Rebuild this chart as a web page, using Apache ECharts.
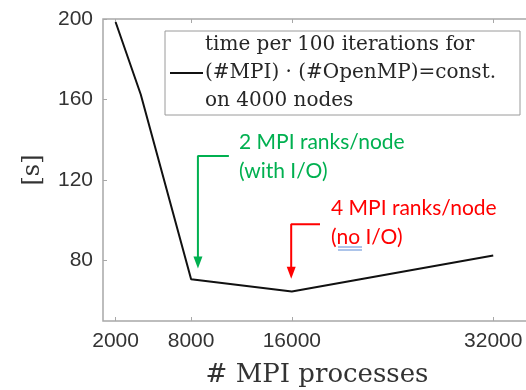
<!DOCTYPE html>
<html>
<head>
<meta charset="utf-8">
<script src="https://cdn.jsdelivr.net/npm/echarts@6/dist/echarts.min.js"></script>
<style>
  html, body { margin: 0; padding: 0; background: #fff; }
  #chart { width: 526px; height: 390px; }
</style>
</head>
<body>
<div id="chart"></div>
<script>
// data
var mpiProcs = [2000, 4000, 8000, 16000, 32000]
var timeSec = [198.5, 162.5, 70.7, 64.7, 82.5]
var xTicks = [2000, 8000, 16000, 32000]
var yTicks = [80, 120, 160, 200]
// annotation arrows (data coords)
var greenArrow = [[11000, 132], [8540, 132], [8540, 79]]
var redArrow = [[18240, 98], [15950, 98], [15950, 74]]

var legendName = 'time per 100 iterations for\n(#MPI) · (#OpenMP)=const.\non 4000 nodes'
var axisGray = '#a8a8a8'
var serif = 'DejaVu Serif'
var sans = 'Liberation Sans'

var chart = echarts.init(document.getElementById('chart'))

function arrowSeries(pts, color) {
  var data = pts.map(function (p, i) {
    if (i === pts.length - 1) {
      return { value: p, symbol: 'triangle', symbolSize: [9, 12], symbolRotate: 180 }
    }
    return { value: p, symbol: 'none' }
  })
  return {
    type: 'line',
    data: data,
    showSymbol: true,
    symbol: 'none',
    lineStyle: { color: color, width: 2 },
    itemStyle: { color: color },
    silent: true,
    z: 3
  }
}

function plain(v) { return String(v) }

chart.setOption({
  animation: false,
  backgroundColor: '#fff',
  grid: {
    left: 103, top: 19, right: -5, bottom: 69, outerBoundsMode: 'none',
    show: true, borderColor: axisGray, borderWidth: 1.5, backgroundColor: 'transparent'
  },
  legend: {
    data: [{ name: legendName, icon: 'rect' }],
    left: 165,
    top: 31,
    orient: 'vertical',
    borderColor: '#9a9a9a',
    borderWidth: 1,
    padding: [0, 5, 0, 5],
    itemWidth: 33,
    itemHeight: 2,
    itemGap: 0,
    selectedMode: false,
    textStyle: {
      fontFamily: serif, fontSize: 20, color: '#262626', lineHeight: 28,
      width: 310, overflow: 'none', padding: [0, 0, 0, -3]
    }
  },
  xAxis: [
    {
      type: 'value',
      min: 1000,
      max: 35000,
      name: '# MPI processes',
      nameLocation: 'middle',
      nameGap: 41,
      nameTextStyle: { fontFamily: serif, fontSize: 26, color: '#333' },
      axisLine: { show: false },
      axisTick: { show: true, inside: true, length: 4, customValues: xTicks, lineStyle: { color: axisGray } },
      axisLabel: { customValues: xTicks, formatter: plain, margin: 10, fontFamily: sans, fontSize: 21, color: '#333' },
      splitLine: { show: false }
    },
    {
      type: 'value',
      position: 'top',
      min: 1000,
      max: 35000,
      axisLine: { show: false },
      axisTick: { show: true, inside: true, length: 4, customValues: xTicks, lineStyle: { color: axisGray } },
      axisLabel: { show: false },
      splitLine: { show: false }
    }
  ],
  yAxis: {
    type: 'value',
    min: 50,
    max: 200,
    name: '[s]',
    nameLocation: 'middle',
    nameRotate: 90,
    nameGap: 58,
    nameTextStyle: { fontFamily: serif, fontSize: 24, color: '#333' },
    axisLine: { show: false },
    axisTick: { show: true, inside: true, length: 4, customValues: yTicks, lineStyle: { color: axisGray } },
    axisLabel: { customValues: yTicks, formatter: plain, margin: 10, fontFamily: sans, fontSize: 21, color: '#333' },
    splitLine: { show: false }
  },
  series: [
    {
      name: legendName,
      type: 'line',
      data: mpiProcs.map(function (x, i) { return [x, timeSec[i]] }),
      symbol: 'none',
      lineStyle: { color: '#111', width: 2 },
      itemStyle: { color: '#111' },
      z: 4
    },
    arrowSeries(greenArrow, '#00b050'),
    arrowSeries(redArrow, '#ff0000')
  ],
  graphic: [
    {
      type: 'text', left: 239, top: 128,
      style: { text: '2 MPI ranks/node\n(with I/O)', fill: '#00b050', font: '21px Lato', lineHeight: 29 }
    },
    {
      type: 'text', left: 331, top: 194,
      style: { text: '4 MPI ranks/node\n(no I/O)', fill: '#ff0000', font: '21px Lato', lineHeight: 29 }
    },
    { type: 'line', shape: { x1: 338, y1: 247, x2: 362, y2: 247 }, style: { stroke: '#5b8ad6', lineWidth: 1 } },
    { type: 'line', shape: { x1: 338, y1: 250, x2: 362, y2: 250 }, style: { stroke: '#5b8ad6', lineWidth: 1 } }
  ]
})
</script>
</body>
</html>
